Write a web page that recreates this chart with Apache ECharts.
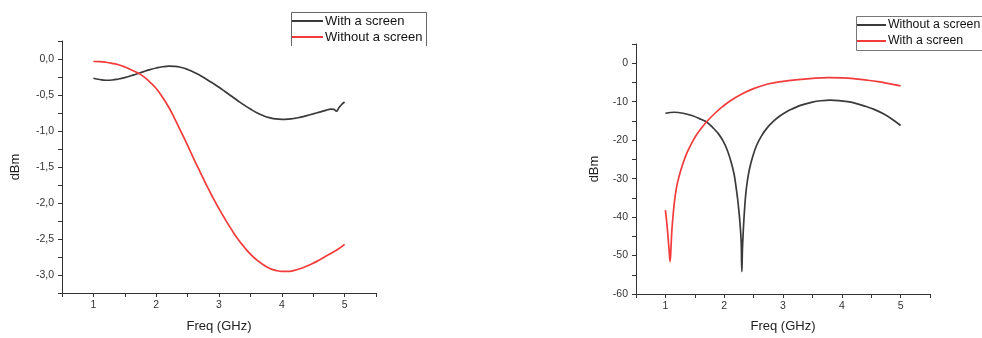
<!DOCTYPE html>
<html>
<head>
<meta charset="utf-8">
<script src="https://cdn.jsdelivr.net/npm/echarts@6/dist/echarts.min.js"></script>
<style>
html,body{margin:0;padding:0;background:#fff;}
#chart{width:982px;height:338px;}
</style>
</head>
<body>
<div id="chart"></div>
<script>
// ---- Data ----
// Left panel
const leftWithFreq = [1.0, 1.1, 1.2, 1.3, 1.4, 1.5, 1.6, 1.7, 1.8, 1.9, 2.0, 2.1, 2.2, 2.3, 2.4, 2.5, 2.6, 2.7, 2.8, 2.9, 3.0, 3.1, 3.2, 3.3, 3.4, 3.5, 3.6, 3.7, 3.8, 3.9, 4.0, 4.1, 4.2, 4.3, 4.4, 4.5, 4.6, 4.7, 4.78, 4.83, 4.87, 4.9, 4.95, 5.0];
const leftWithVal  = [-0.267, -0.285, -0.295, -0.292, -0.278, -0.258, -0.232, -0.205, -0.175, -0.148, -0.125, -0.108, -0.1, -0.102, -0.118, -0.145, -0.183, -0.228, -0.28, -0.335, -0.393, -0.455, -0.518, -0.58, -0.64, -0.695, -0.745, -0.785, -0.815, -0.832, -0.838, -0.835, -0.825, -0.808, -0.787, -0.763, -0.738, -0.713, -0.697, -0.70, -0.725, -0.69, -0.635, -0.598];
const leftWithoutFreq = [1.0, 1.1, 1.2, 1.3, 1.4, 1.5, 1.6, 1.7, 1.8, 1.9, 2.0, 2.1, 2.2, 2.3, 2.4, 2.5, 2.6, 2.7, 2.8, 2.9, 3.0, 3.1, 3.2, 3.3, 3.4, 3.5, 3.6, 3.7, 3.8, 3.9, 4.0, 4.1, 4.2, 4.3, 4.4, 4.5, 4.6, 4.7, 4.8, 4.9, 5.0];
const leftWithoutVal  = [-0.035, -0.037, -0.045, -0.06, -0.08, -0.11, -0.15, -0.19, -0.245, -0.32, -0.41, -0.53, -0.67, -0.84, -1.02, -1.2, -1.39, -1.57, -1.75, -1.92, -2.08, -2.23, -2.37, -2.5, -2.61, -2.71, -2.79, -2.855, -2.905, -2.935, -2.95, -2.95, -2.935, -2.91, -2.875, -2.835, -2.79, -2.74, -2.69, -2.64, -2.575];
// Right panel
const rightWithoutFreq = [1.0, 1.15, 1.3, 1.45, 1.58, 1.7, 1.81, 1.9, 1.98, 2.05, 2.12, 2.17, 2.2, 2.23, 2.26, 2.28, 2.29, 2.3, 2.31, 2.32, 2.33, 2.35, 2.37, 2.4, 2.43, 2.48, 2.55, 2.63, 2.72, 2.83, 2.94, 3.06, 3.17, 3.31, 3.5, 3.65, 3.8, 3.95, 4.1, 4.25, 4.4, 4.55, 4.7, 4.85, 5.0];
const rightWithoutVal  = [-13.0, -12.75, -13.0, -13.6, -14.4, -15.3, -16.8, -18.3, -20.2, -22.5, -25.8, -29, -32, -35.5, -40, -44, -47, -54.2, -48.5, -45, -42, -37.2, -33.5, -30, -27.5, -24.5, -21.4, -19, -17, -15.2, -13.8, -12.6, -11.8, -10.9, -10.1, -9.75, -9.6, -9.7, -10.0, -10.5, -11.2, -12.0, -13.1, -14.5, -16.2];
const rightWithFreq = [1.0, 1.03, 1.06, 1.08, 1.095, 1.11, 1.15, 1.19, 1.24, 1.3, 1.37, 1.45, 1.53, 1.62, 1.72, 1.83, 1.97, 2.1, 2.3, 2.5, 2.74, 3.0, 3.3, 3.55, 3.77, 4.0, 4.2, 4.4, 4.62, 4.8, 5.0];
const rightWithVal  = [-38.2, -42.5, -48, -51.6, -48, -43.5, -36.5, -32.2, -29.0, -26.0, -23.2, -20.7, -18.6, -16.7, -14.9, -13.2, -11.3, -9.8, -8.0, -6.6, -5.4, -4.7, -4.2, -3.85, -3.72, -3.8, -4.0, -4.35, -4.8, -5.3, -5.9];

// Tick labels
const xTickValues = [1, 2, 3, 4, 5];
const xTickLabels = ['1', '2', '3', '4', '5'];
const leftYTickValues = [0, -0.5, -1, -1.5, -2, -2.5, -3];
const leftYTickLabels = ['0,0', '-0,5', '-1,0', '-1,5', '-2,0', '-2,5', '-3,0'];
const rightYTickValues = [0, -10, -20, -30, -40, -50, -60];
const rightYTickLabels = ['0', '-10', '-20', '-30', '-40', '-50', '-60'];

// Legend / series names
const leftNames = ['With a screen', 'Without a screen'];
const rightNames = ['Without a screen', 'With a screen'];

function zip(a, b) { return a.map((v, i) => [v, b[i]]); }
function lookup(vals, labels) {
  return function (v) {
    for (let i = 0; i < vals.length; i++) if (Math.abs(vals[i] - v) < 1e-6) return labels[i];
    return '';
  };
}

const BLACK = '#3a3a3a';
const RED = '#f23b3b';
const FONT = 'Liberation Sans, Arial, sans-serif';
const axisColor = '#333';

function xAxisDef(gridIndex, gap) {
  return {
    type: 'value', gridIndex, min: 0.5, max: 5.5, interval: 0.5,
    name: 'Freq (GHz)', nameLocation: 'middle', nameGap: gap,
    nameTextStyle: { fontSize: 13, color: '#222', fontFamily: FONT },
    axisLine: { show: true, onZero: false, lineStyle: { color: axisColor, width: 1 } },
    axisTick: { show: true, length: 4, inside: false, lineStyle: { color: axisColor } },
    axisLabel: { formatter: lookup(xTickValues, xTickLabels), fontSize: 10.5, color: '#333', margin: 7, fontFamily: FONT },
    splitLine: { show: false }
  };
}
function yAxisDef(gridIndex, min, max, interval, vals, labels, gap) {
  return {
    type: 'value', gridIndex, min, max, interval,
    name: 'dBm', nameLocation: 'middle', nameGap: gap,
    nameTextStyle: { fontSize: 13, color: '#222', fontFamily: FONT },
    axisLine: { show: true, onZero: false, lineStyle: { color: axisColor } },
    axisTick: { show: true, length: 4, lineStyle: { color: axisColor } },
    axisLabel: { formatter: lookup(vals, labels), fontSize: 10.5, color: '#333', margin: 8, fontFamily: FONT },
    splitLine: { show: false }
  };
}

const chart = echarts.init(document.getElementById('chart'), null, { renderer: 'canvas' });
chart.setOption({
  animation: false,
  backgroundColor: '#fff',
  grid: [
    { left: 62, top: 41, right: 606, bottom: 44 },
    { left: 636, top: 44, right: 52, bottom: 40 }
  ],
  xAxis: [xAxisDef(0, 27), xAxisDef(1, 26)],
  yAxis: [
    yAxisDef(0, -3.25, 0.25, 0.25, leftYTickValues, leftYTickLabels, 40),
    yAxisDef(1, -60, 5, 5, rightYTickValues, rightYTickLabels, 35)
  ],
  legend: [
    {
      orient: 'vertical', left: 292, top: 13, padding: 0, itemGap: 0,
      itemWidth: 31, itemHeight: 2, icon: 'rect', selectedMode: false,
      textStyle: { fontSize: 13, color: '#111', fontFamily: FONT, lineHeight: 16, padding: [0, 0, 0, -3] },
      data: [
        { name: leftNames[0], itemStyle: { color: BLACK } },
        { name: leftNames[1], itemStyle: { color: RED } }
      ]
    },
    {
      orient: 'vertical', left: 857, top: 17, padding: 0, itemGap: 0,
      itemWidth: 29, itemHeight: 2, icon: 'rect', selectedMode: false,
      textStyle: { fontSize: 12.3, color: '#111', fontFamily: FONT, lineHeight: 16, padding: [0, 0, 0, -3] },
      data: [
        { name: rightNames[0], itemStyle: { color: BLACK } },
        { name: rightNames[1], itemStyle: { color: RED } }
      ]
    }
  ],
  graphic: [
    { type: 'polyline', silent: true, shape: { points: [[291.5, 46], [291.5, 12.5], [426.5, 12.5], [426.5, 46]] }, style: { stroke: '#666', lineWidth: 1, fill: null } },
    { type: 'rect', silent: true, shape: { x: 856.5, y: 16.5, width: 140, height: 34 }, style: { stroke: '#777', lineWidth: 1, fill: null } }
  ],
  series: [
    { name: leftNames[0], type: 'line', xAxisIndex: 0, yAxisIndex: 0, data: zip(leftWithFreq, leftWithVal), smooth: 0.5, showSymbol: false, lineStyle: { color: BLACK, width: 1.7 }, itemStyle: { color: BLACK } },
    { name: leftNames[1], type: 'line', xAxisIndex: 0, yAxisIndex: 0, data: zip(leftWithoutFreq, leftWithoutVal), smooth: 0.5, showSymbol: false, lineStyle: { color: RED, width: 1.7 }, itemStyle: { color: RED } },
    { name: rightNames[0], type: 'line', xAxisIndex: 1, yAxisIndex: 1, data: zip(rightWithoutFreq, rightWithoutVal), smooth: 0.4, showSymbol: false, lineStyle: { color: BLACK, width: 1.7 }, itemStyle: { color: BLACK } },
    { name: rightNames[1], type: 'line', xAxisIndex: 1, yAxisIndex: 1, data: zip(rightWithFreq, rightWithVal), smooth: 0.4, showSymbol: false, lineStyle: { color: RED, width: 1.7 }, itemStyle: { color: RED } }
  ]
});
</script>
</body>
</html>
